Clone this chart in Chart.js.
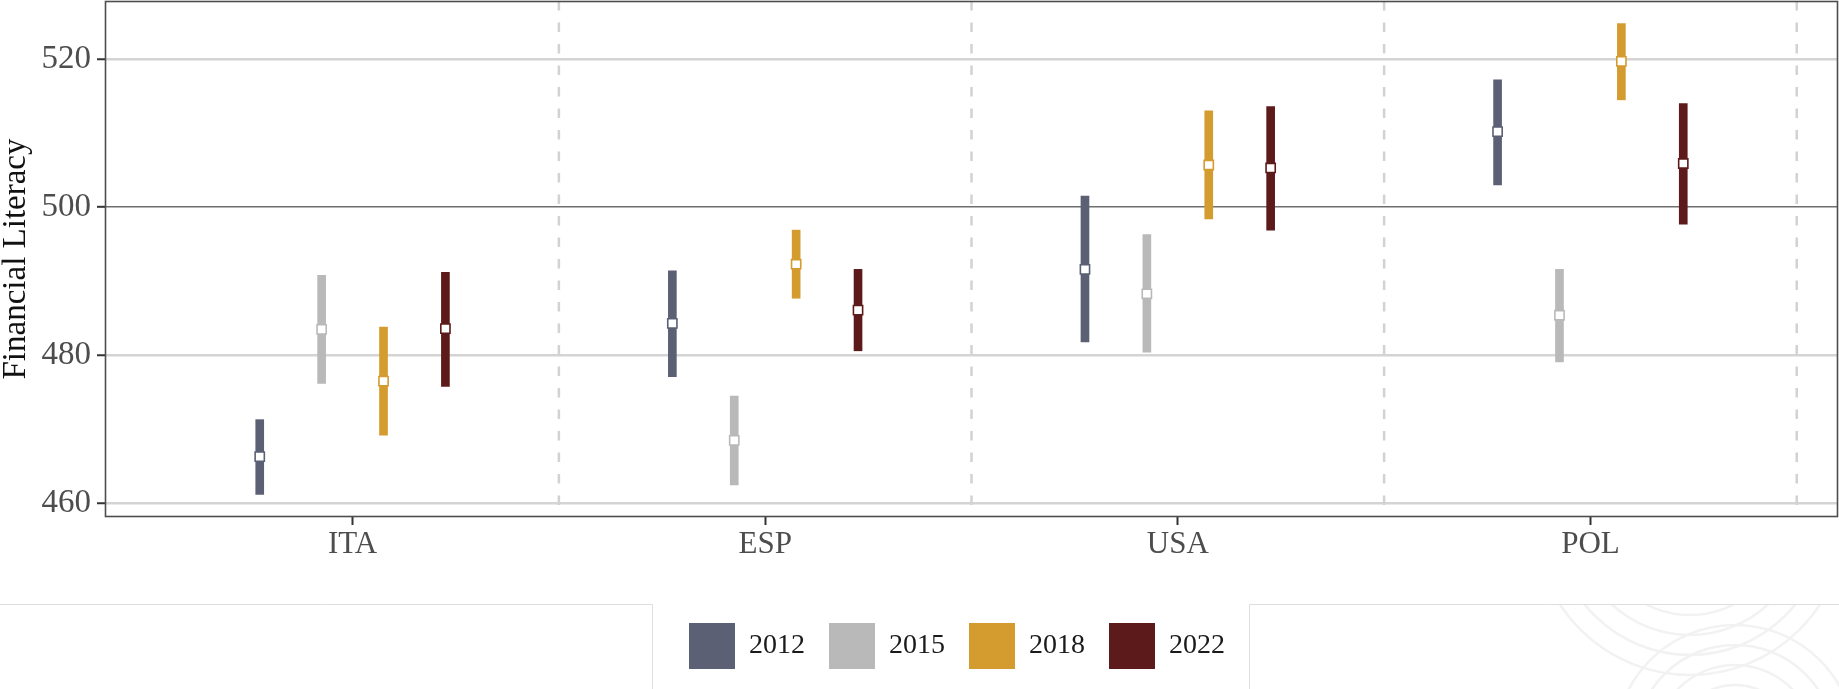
<!DOCTYPE html>
<html>
<head>
<meta charset="utf-8">
<script src="https://cdn.jsdelivr.net/npm/chart.js@4.4.1/dist/chart.umd.min.js"></script>
<style>
html,body{margin:0;padding:0;background:#fff;overflow:hidden}
#wrap{width:1839px;height:689px;position:relative}
</style>
</head>
<body>
<div id="wrap"><canvas id="c"></canvas></div>
<script>
// ---- data ----
const categories = ['ITA', 'ESP', 'USA', 'POL'];
const years = ['2012', '2015', '2018', '2022'];

const mean2012 = [466.3, 484.3, 491.6, 510.2];
const low2012  = [461.2, 477.1, 481.8, 503.0];
const high2012 = [471.3, 491.4, 501.5, 517.2];

const mean2015 = [483.5, 468.5, 488.3, 485.4];
const low2015  = [476.2, 462.5, 480.4, 479.1];
const high2015 = [490.8, 474.5, 496.3, 491.6];

const mean2018 = [476.5, 492.3, 505.7, 519.7];
const low2018  = [469.2, 487.7, 498.4, 514.5];
const high2018 = [483.8, 496.9, 513.0, 524.8];

const mean2022 = [483.6, 486.1, 505.3, 505.9];
const low2022  = [475.8, 480.6, 496.9, 497.7];
const high2022 = [491.2, 491.6, 513.6, 514.0];

const yTickValues = [460, 480, 500, 520];
const yTitle = 'Financial Literacy';

// ---- styling / layout ----
const FONT = "'Liberation Serif', 'Times New Roman', Times, serif";
const colors = ['#5b6074', '#b9b9b9', '#d49b2e', '#5c1b1a'];
const dodge = [-0.225, -0.075, 0.075, 0.225];
const means = [mean2012, mean2015, mean2018, mean2022];
const lows = [low2012, low2015, low2018, low2022];
const highs = [high2012, high2015, high2018, high2022];

const barSets = years.map((yr, s) => ({
  type: 'bar',
  label: yr,
  data: categories.map((c, i) => ({ x: i + dodge[s], y: [lows[s][i], highs[s][i]] })),
  backgroundColor: colors[s],
  borderWidth: 0,
  borderSkipped: false,
  barThickness: 8,
  maxBarThickness: 8,
  grouped: false,
  order: 2
}));
const pointSets = years.map((yr, s) => ({
  type: 'scatter',
  label: yr + ' mean',
  data: categories.map((c, i) => ({ x: i + dodge[s], y: means[s][i] })),
  pointStyle: 'rect',
  pointRadius: 6.5,
  pointHoverRadius: 6.5,
  backgroundColor: '#ffffff',
  borderColor: colors[s],
  borderWidth: 1.6,
  order: 1
}));

const deco = {
  id: 'deco',
  beforeDraw(chart) {
    const { ctx, width, height } = chart;
    ctx.save();
    ctx.fillStyle = '#ffffff';
    ctx.fillRect(0, 0, width, height);
    // faint watermark arcs in lower right
    ctx.beginPath();
    ctx.rect(1250, 605, width - 1250, height - 605);
    ctx.clip();
    ctx.strokeStyle = '#f2f2f2';
    ctx.lineWidth = 2.5;
    [95, 115, 135, 155].forEach(r => { ctx.beginPath(); ctx.arc(1690, 520, r, 0, Math.PI * 2); ctx.stroke(); });
    [40, 60, 80, 100, 120].forEach(r => { ctx.beginPath(); ctx.arc(1735, 745, r, 0, Math.PI * 2); ctx.stroke(); });
    ctx.restore();
    // light frame around the legend region
    ctx.save();
    ctx.strokeStyle = '#dedede';
    ctx.lineWidth = 1;
    ctx.beginPath();
    ctx.moveTo(0, 604.5); ctx.lineTo(652.5, 604.5); ctx.lineTo(652.5, height);
    ctx.moveTo(1249.5, height); ctx.lineTo(1249.5, 604.5); ctx.lineTo(width, 604.5);
    ctx.stroke();
    ctx.restore();
  },
  afterLayout(chart) {
    const lg = chart.legend;
    if (lg) { lg.left += 38; lg.right += 38; }
  },
  beforeDatasetsDraw(chart) {
    const { ctx, chartArea } = chart;
    const xs = chart.scales.x;
    ctx.save();
    ctx.strokeStyle = '#d2d2d2';
    ctx.lineWidth = 2.5;
    ctx.setLineDash([9.5, 12]);
    for (let i = 0; i < categories.length; i++) {
      const px = xs.getPixelForValue(i + 0.5);
      ctx.beginPath();
      ctx.moveTo(px, chartArea.top);
      ctx.lineTo(px, chartArea.bottom);
      ctx.stroke();
    }
    ctx.restore();
  },
  afterDraw(chart) {
    const { ctx, chartArea } = chart;
    ctx.save();
    ctx.strokeStyle = '#4d4d4d';
    ctx.lineWidth = 1.6;
    ctx.strokeRect(chartArea.left + 0.5, chartArea.top + 0.5, chartArea.right - chartArea.left - 1, chartArea.bottom - chartArea.top - 1);
    ctx.restore();
  }
};

new Chart(document.getElementById('c'), {
  type: 'bar',
  data: { datasets: [...pointSets, ...barSets] },
  plugins: [deco],
  options: {
    responsive: true,
    maintainAspectRatio: false,
    animation: false,
    devicePixelRatio: 1,
    layout: { autoPadding: false, padding: { top: 1, right: 1, bottom: 10, left: 0 } },
    plugins: {
      tooltip: { enabled: false },
      legend: {
        position: 'bottom',
        align: 'center',
        labels: {
          filter: (item, data) => data.datasets[item.datasetIndex].type === 'bar',
          boxWidth: 46,
          boxHeight: 46,
          padding: 24,
          color: '#1a1a1a',
          font: { family: FONT, size: 28 }
        }
      }
    },
    scales: {
      x: {
        type: 'linear',
        min: -0.6,
        max: 3.6,
        offset: false,
        afterBuildTicks: ax => { ax.ticks = categories.map((c, i) => ({ value: i })); },
        afterFit: ax => { ax.height = 82; ax.paddingLeft = 0; ax.paddingRight = 0; },
        ticks: {
          autoSkip: false,
          maxRotation: 0,
          padding: 1,
          color: '#4d4d4d',
          font: { family: FONT, size: 31 },
          callback: v => categories[v]
        },
        grid: {
          offset: false,
          drawOnChartArea: false,
          drawTicks: true,
          tickLength: 8,
          tickColor: '#333333',
          tickWidth: 2
        },
        border: { display: false }
      },
      y: {
        type: 'linear',
        min: 458.15,
        max: 527.85,
        afterBuildTicks: ax => { ax.ticks = yTickValues.map(v => ({ value: v })); },
        afterFit: ax => { ax.width = 105; ax.paddingTop = 0; ax.paddingBottom = 0; },
        ticks: {
          padding: 6,
          color: '#4d4d4d',
          font: { family: FONT, size: 33 }
        },
        grid: {
          color: c => (c.tick && c.tick.value === 500 ? '#6f6f6f' : '#d4d4d4'),
          lineWidth: c => (c.tick && c.tick.value === 500 ? 1.6 : 2.5),
          tickLength: 8,
          tickColor: '#333333',
          tickWidth: 2
        },
        border: { display: false },
        title: {
          display: true,
          text: yTitle,
          color: '#111111',
          font: { family: FONT, size: 33, lineHeight: 1 },
          padding: { top: 0, bottom: 0 }
        }
      }
    }
  }
});
</script>
</body>
</html>
